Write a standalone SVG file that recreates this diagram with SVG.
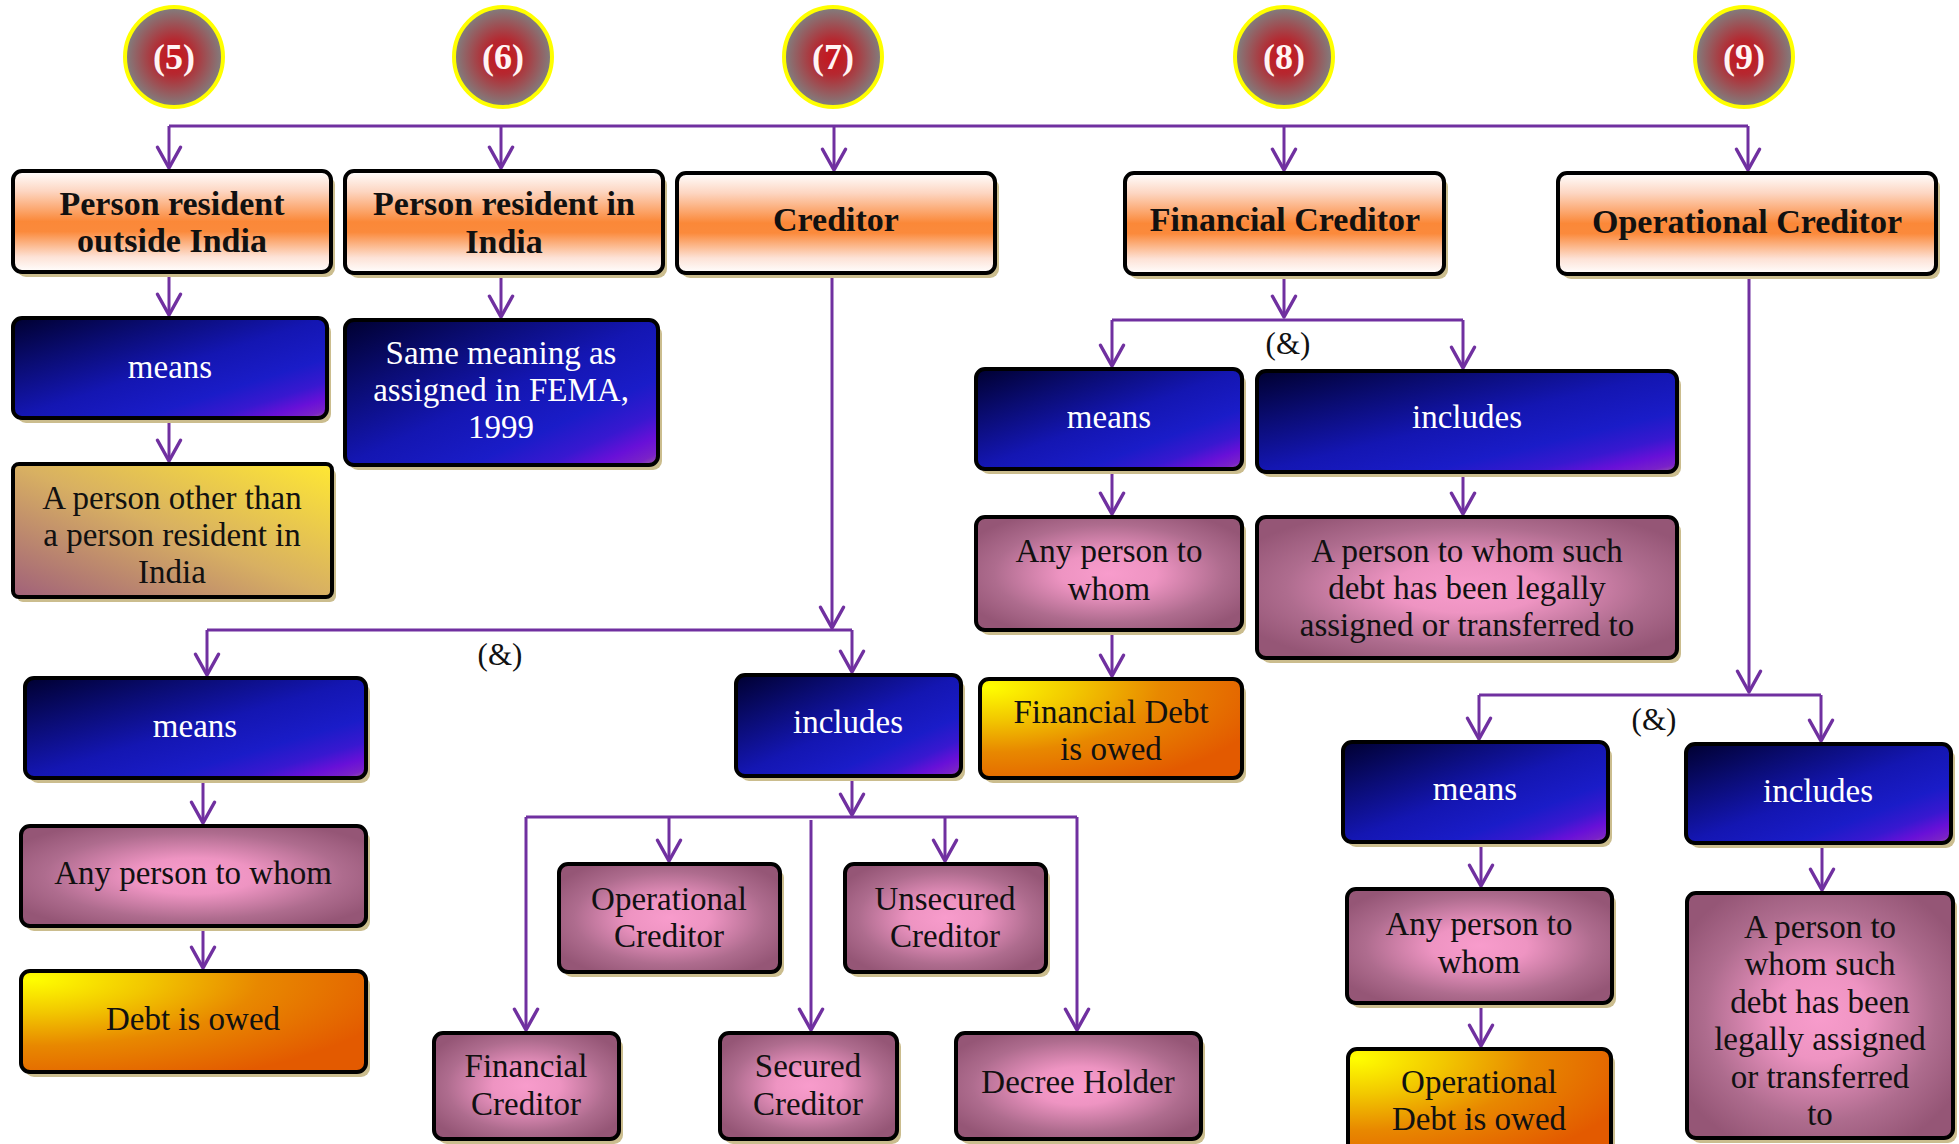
<svg xmlns="http://www.w3.org/2000/svg" width="1959" height="1144" viewBox="0 0 1959 1144">
  <defs>
    <linearGradient id="gHdr" x1="0" y1="0" x2="0" y2="1">
      <stop offset="0" stop-color="#ffffff"/>
      <stop offset="0.2" stop-color="#fdd6c2"/>
      <stop offset="0.5" stop-color="#fb8838"/>
      <stop offset="0.6" stop-color="#fb8a3c"/>
      <stop offset="0.85" stop-color="#fde2d6"/>
      <stop offset="1" stop-color="#ffffff"/>
    </linearGradient>
    <linearGradient id="gBlue" x1="0" y1="0" x2="1" y2="1">
      <stop offset="0" stop-color="#000030"/>
      <stop offset="0.25" stop-color="#0a0c72"/>
      <stop offset="0.5" stop-color="#1416b2"/>
      <stop offset="0.7" stop-color="#1a1cc8"/>
      <stop offset="0.82" stop-color="#3818d0"/>
      <stop offset="0.9" stop-color="#6810d8"/>
      <stop offset="0.96" stop-color="#7a22c8"/>
      <stop offset="1" stop-color="#9a60a0"/>
    </linearGradient>
    <radialGradient id="gPink" cx="0.5" cy="0.5" r="0.6">
      <stop offset="0" stop-color="#f89ccc"/>
      <stop offset="0.3" stop-color="#ee94c2"/>
      <stop offset="0.72" stop-color="#ae6c8e"/>
      <stop offset="1" stop-color="#955676"/>
    </radialGradient>
    <linearGradient id="gGold" x1="1" y1="0" x2="0" y2="1">
      <stop offset="0" stop-color="#ffe833"/>
      <stop offset="0.5" stop-color="#d8b062"/>
      <stop offset="1" stop-color="#a0607a"/>
    </linearGradient>
    <radialGradient id="gDebt" cx="0.03" cy="0.08" r="1.1">
      <stop offset="0" stop-color="#ffff00"/>
      <stop offset="0.3" stop-color="#f2c800"/>
      <stop offset="0.6" stop-color="#e88800"/>
      <stop offset="1" stop-color="#e35a00"/>
    </radialGradient>
    <radialGradient id="gBadge" cx="0.5" cy="0.5" r="0.5">
      <stop offset="0" stop-color="#c8141c"/>
      <stop offset="0.35" stop-color="#b52830"/>
      <stop offset="1" stop-color="#808080"/>
    </radialGradient>
    <marker id="arw" markerUnits="userSpaceOnUse" markerWidth="30" markerHeight="30" viewBox="-22 -12 26 24" refX="0" refY="0" orient="auto">
      <path d="M-18,-10 L0,0 L-18,10" fill="none" stroke="#7030a0" stroke-width="3" stroke-linecap="round" stroke-linejoin="round"/>
    </marker>
  </defs>
  <style>
    .sh { fill: #cbbd8e; }
    .box { stroke: #000; stroke-width: 4; }
    .hdr { fill: url(#gHdr); }
    .blue { fill: url(#gBlue); }
    .pink { fill: url(#gPink); }
    .gold { fill: url(#gGold); }
    .debt { fill: url(#gDebt); }
    .badge { fill: url(#gBadge); stroke: #ffff00; stroke-width: 4; }
    .t { font-family: "Liberation Serif", "Times New Roman", serif; text-anchor: middle; font-size: 33px; fill: #111; }
    .w { fill: #ffffff; }
    .b { font-weight: bold; font-size: 34px; }
    .num { font-family: "Liberation Serif", "Times New Roman", serif; text-anchor: middle; font-size: 36px; font-weight: bold; fill: #fff4f4; }
    .amp { font-family: "Liberation Serif", "Times New Roman", serif; text-anchor: middle; font-size: 31px; fill: #111; }
    .c { fill: none; stroke: #7030a0; stroke-width: 3; }
    .c.a { marker-end: url(#arw); }
  </style>

  <rect width="1959" height="1144" fill="#ffffff"/>

  <!-- section number badges -->
  <g id="badges">
    <g id="badge-5"><ellipse class="badge" cx="174" cy="57" rx="49" ry="50"/><text class="num" x="174" y="69">(5)</text></g>
    <g id="badge-6"><ellipse class="badge" cx="503" cy="57" rx="49" ry="50"/><text class="num" x="503" y="69">(6)</text></g>
    <g id="badge-7"><ellipse class="badge" cx="833" cy="57" rx="49" ry="50"/><text class="num" x="833" y="69">(7)</text></g>
    <g id="badge-8"><ellipse class="badge" cx="1284" cy="57" rx="49" ry="50"/><text class="num" x="1284" y="69">(8)</text></g>
    <g id="badge-9"><ellipse class="badge" cx="1744" cy="57" rx="49" ry="50"/><text class="num" x="1744" y="69">(9)</text></g>
  </g>

  <!-- connectors -->
  <g id="connectors">
    <path class="c" d="M169,126 H1748"/>
    <path class="c a" d="M169,126 V168"/>
    <path class="c a" d="M501,126 V168"/>
    <path class="c a" d="M834,126 V170"/>
    <path class="c a" d="M1284,126 V170"/>
    <path class="c a" d="M1748,126 V170"/>

    <path class="c a" d="M169,272 V315"/>
    <path class="c a" d="M169,418 V461"/>
    <path class="c a" d="M501,273 V317"/>

    <path class="c a" d="M832,273 V628"/>
    <path class="c" d="M207,630 H852"/>
    <path class="c a" d="M207,630 V675"/>
    <path class="c a" d="M852,630 V672"/>
    <path class="c a" d="M203,778 V823"/>
    <path class="c a" d="M203,926 V968"/>

    <path class="c a" d="M852,776 V815"/>
    <path class="c" d="M526,817 H1077"/>
    <path class="c a" d="M526,817 V1030"/>
    <path class="c a" d="M669,817 V861"/>
    <path class="c a" d="M811,820 V1030"/>
    <path class="c a" d="M945,817 V861"/>
    <path class="c a" d="M1077,817 V1030"/>

    <path class="c a" d="M1284,274 V317"/>
    <path class="c" d="M1112,320 H1463"/>
    <path class="c a" d="M1112,320 V366"/>
    <path class="c a" d="M1463,320 V368"/>
    <path class="c a" d="M1112,469 V514"/>
    <path class="c a" d="M1112,630 V676"/>
    <path class="c a" d="M1463,472 V514"/>

    <path class="c a" d="M1749,274 V692"/>
    <path class="c" d="M1479,695 H1821"/>
    <path class="c a" d="M1479,695 V739"/>
    <path class="c a" d="M1821,695 V741"/>
    <path class="c a" d="M1481,842 V886"/>
    <path class="c a" d="M1481,1003 V1046"/>
    <path class="c a" d="M1822,843 V890"/>
  </g>

  <!-- "and" labels on the split points -->
  <text class="amp" x="500" y="665">(&amp;)</text>
  <text class="amp" x="1288" y="354">(&amp;)</text>
  <text class="amp" x="1654" y="730">(&amp;)</text>

  <!-- (5) Person resident outside India -->
  <g id="n-pro">
    <rect class="sh" x="17" y="176" width="318" height="101" rx="9"/>
    <rect class="box hdr" x="13" y="171" width="318" height="101" rx="9"/>
    <text class="t b" x="172" y="215">Person resident</text>
    <text class="t b" x="172" y="252">outside India</text>
  </g>
  <g id="n-pro-means">
    <rect class="sh" x="17" y="323" width="314" height="100" rx="9"/>
    <rect class="box blue" x="13" y="318" width="314" height="100" rx="9"/>
    <text class="t w" x="170" y="378">means</text>
  </g>
  <g id="n-pro-def">
    <rect class="sh" x="17" y="469" width="319" height="133" rx="6"/>
    <rect class="box gold" x="13" y="464" width="319" height="133" rx="6"/>
    <text class="t" x="172" y="509">A person other than</text>
    <text class="t" x="172" y="546">a person resident in</text>
    <text class="t" x="172" y="583">India</text>
  </g>

  <!-- (6) Person resident in India -->
  <g id="n-pri">
    <rect class="sh" x="349" y="176" width="318" height="102" rx="9"/>
    <rect class="box hdr" x="345" y="171" width="318" height="102" rx="9"/>
    <text class="t b" x="504" y="215">Person resident in</text>
    <text class="t b" x="504" y="253">India</text>
  </g>
  <g id="n-pri-def">
    <rect class="sh" x="349" y="325" width="313" height="145" rx="9"/>
    <rect class="box blue" x="345" y="320" width="313" height="145" rx="9"/>
    <text class="t w" x="501" y="364">Same meaning as</text>
    <text class="t w" x="501" y="401">assigned in FEMA,</text>
    <text class="t w" x="501" y="438">1999</text>
  </g>

  <!-- (7) Creditor -->
  <g id="n-cr">
    <rect class="sh" x="681" y="178" width="318" height="100" rx="9"/>
    <rect class="box hdr" x="677" y="173" width="318" height="100" rx="9"/>
    <text class="t b" x="836" y="231">Creditor</text>
  </g>
  <g id="n-cr-means">
    <rect class="sh" x="29" y="683" width="341" height="100" rx="9"/>
    <rect class="box blue" x="25" y="678" width="341" height="100" rx="9"/>
    <text class="t w" x="195" y="737">means</text>
  </g>
  <g id="n-cr-any">
    <rect class="sh" x="25" y="831" width="345" height="100" rx="9"/>
    <rect class="box pink" x="21" y="826" width="345" height="100" rx="9"/>
    <text class="t" x="193" y="884">Any person to whom</text>
  </g>
  <g id="n-cr-debt">
    <rect class="sh" x="25" y="976" width="345" height="101" rx="9"/>
    <rect class="box debt" x="21" y="971" width="345" height="101" rx="9"/>
    <text class="t" x="193" y="1030">Debt is owed</text>
  </g>
  <g id="n-cr-incl">
    <rect class="sh" x="740" y="680" width="225" height="101" rx="9"/>
    <rect class="box blue" x="736" y="675" width="225" height="101" rx="9"/>
    <text class="t w" x="848" y="733">includes</text>
  </g>
  <g id="n-cr-op">
    <rect class="sh" x="563" y="869" width="221" height="108" rx="9"/>
    <rect class="box pink" x="559" y="864" width="221" height="108" rx="9"/>
    <text class="t" x="669" y="910">Operational</text>
    <text class="t" x="669" y="947">Creditor</text>
  </g>
  <g id="n-cr-unsec">
    <rect class="sh" x="849" y="869" width="201" height="108" rx="9"/>
    <rect class="box pink" x="845" y="864" width="201" height="108" rx="9"/>
    <text class="t" x="945" y="910">Unsecured</text>
    <text class="t" x="945" y="947">Creditor</text>
  </g>
  <g id="n-cr-fin">
    <rect class="sh" x="438" y="1038" width="185" height="106" rx="9"/>
    <rect class="box pink" x="434" y="1033" width="185" height="106" rx="9"/>
    <text class="t" x="526" y="1077">Financial</text>
    <text class="t" x="526" y="1115">Creditor</text>
  </g>
  <g id="n-cr-sec">
    <rect class="sh" x="724" y="1038" width="177" height="106" rx="9"/>
    <rect class="box pink" x="720" y="1033" width="177" height="106" rx="9"/>
    <text class="t" x="808" y="1077">Secured</text>
    <text class="t" x="808" y="1115">Creditor</text>
  </g>
  <g id="n-cr-dec">
    <rect class="sh" x="960" y="1038" width="245" height="106" rx="9"/>
    <rect class="box pink" x="956" y="1033" width="245" height="106" rx="9"/>
    <text class="t" x="1078" y="1093">Decree Holder</text>
  </g>

  <!-- (8) Financial Creditor -->
  <g id="n-fc">
    <rect class="sh" x="1129" y="178" width="319" height="101" rx="9"/>
    <rect class="box hdr" x="1125" y="173" width="319" height="101" rx="9"/>
    <text class="t b" x="1285" y="231">Financial Creditor</text>
  </g>
  <g id="n-fc-means">
    <rect class="sh" x="980" y="374" width="266" height="100" rx="9"/>
    <rect class="box blue" x="976" y="369" width="266" height="100" rx="9"/>
    <text class="t w" x="1109" y="428">means</text>
  </g>
  <g id="n-fc-incl">
    <rect class="sh" x="1261" y="376" width="420" height="101" rx="9"/>
    <rect class="box blue" x="1257" y="371" width="420" height="101" rx="9"/>
    <text class="t w" x="1467" y="428">includes</text>
  </g>
  <g id="n-fc-any">
    <rect class="sh" x="980" y="522" width="266" height="113" rx="9"/>
    <rect class="box pink" x="976" y="517" width="266" height="113" rx="9"/>
    <text class="t" x="1109" y="562">Any person to</text>
    <text class="t" x="1109" y="600">whom</text>
  </g>
  <g id="n-fc-debt">
    <rect class="sh" x="984" y="684" width="262" height="99" rx="9"/>
    <rect class="box debt" x="980" y="679" width="262" height="99" rx="9"/>
    <text class="t" x="1111" y="723">Financial Debt</text>
    <text class="t" x="1111" y="760">is owed</text>
  </g>
  <g id="n-fc-assign">
    <rect class="sh" x="1261" y="522" width="420" height="141" rx="9"/>
    <rect class="box pink" x="1257" y="517" width="420" height="141" rx="9"/>
    <text class="t" x="1467" y="562">A person to whom such</text>
    <text class="t" x="1467" y="599">debt has been legally</text>
    <text class="t" x="1467" y="636">assigned or transferred to</text>
  </g>

  <!-- (9) Operational Creditor -->
  <g id="n-oc">
    <rect class="sh" x="1562" y="178" width="378" height="101" rx="9"/>
    <rect class="box hdr" x="1558" y="173" width="378" height="101" rx="9"/>
    <text class="t b" x="1747" y="233">Operational Creditor</text>
  </g>
  <g id="n-oc-means">
    <rect class="sh" x="1347" y="747" width="265" height="100" rx="9"/>
    <rect class="box blue" x="1343" y="742" width="265" height="100" rx="9"/>
    <text class="t w" x="1475" y="800">means</text>
  </g>
  <g id="n-oc-incl">
    <rect class="sh" x="1690" y="749" width="265" height="99" rx="9"/>
    <rect class="box blue" x="1686" y="744" width="265" height="99" rx="9"/>
    <text class="t w" x="1818" y="802">includes</text>
  </g>
  <g id="n-oc-any">
    <rect class="sh" x="1351" y="894" width="265" height="114" rx="9"/>
    <rect class="box pink" x="1347" y="889" width="265" height="114" rx="9"/>
    <text class="t" x="1479" y="935">Any person to</text>
    <text class="t" x="1479" y="973">whom</text>
  </g>
  <g id="n-oc-debt">
    <rect class="sh" x="1352" y="1054" width="263" height="110" rx="9"/>
    <rect class="box debt" x="1348" y="1049" width="263" height="110" rx="9"/>
    <text class="t" x="1479" y="1093">Operational</text>
    <text class="t" x="1479" y="1130">Debt is owed</text>
  </g>
  <g id="n-oc-assign">
    <rect class="sh" x="1691" y="898" width="266" height="245" rx="9"/>
    <rect class="box pink" x="1687" y="893" width="266" height="245" rx="9"/>
    <text class="t" x="1820" y="938">A person to</text>
    <text class="t" x="1820" y="975">whom such</text>
    <text class="t" x="1820" y="1013">debt has been</text>
    <text class="t" x="1820" y="1050">legally assigned</text>
    <text class="t" x="1820" y="1088">or transferred</text>
    <text class="t" x="1820" y="1125">to</text>
  </g>
</svg>
